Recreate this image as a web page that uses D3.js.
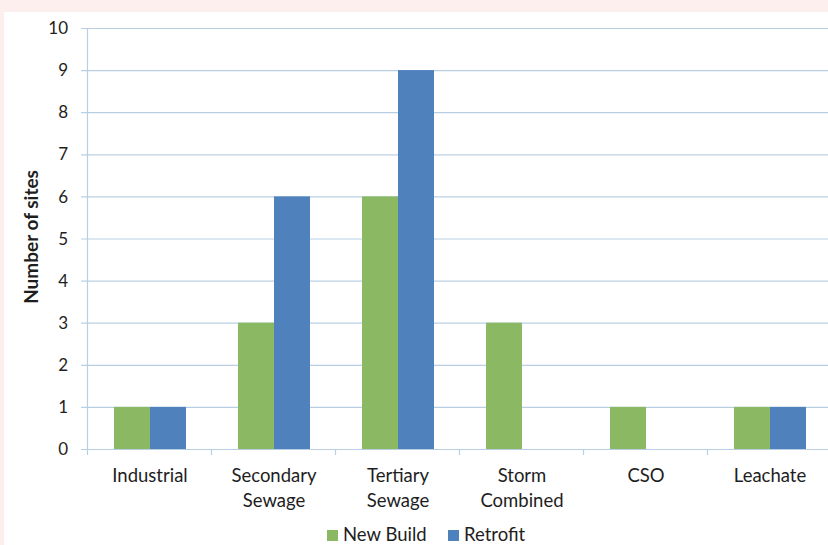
<!DOCTYPE html>
<html><head><meta charset="utf-8">
<script src="https://cdn.jsdelivr.net/npm/d3@7"></script>
<style>
html,body{margin:0;padding:0;background:#fcefee;}
svg{display:block;}
text{font-family:Lato,"Open Sans",sans-serif;fill:#1e1e1e;}
</style></head>
<body>
<svg id="chart" width="828" height="545"></svg>
<script>
const categories = [["Industrial"], ["Secondary", "Sewage"], ["Tertiary", "Sewage"], ["Storm", "Combined"], ["CSO"], ["Leachate"]];
const seriesNames = ["New Build", "Retrofit"];
const newBuild = [1, 3, 6, 3, 1, 1];
const retrofit = [1, 6, 9, 0, 0, 1];
const yTicks = [0, 1, 2, 3, 4, 5, 6, 7, 8, 9, 10];
const colors = ["#8bb863", "#4f81bd"];

const svg = d3.select("#chart");
svg.append("rect").attr("x", 4).attr("y", 12).attr("width", 824).attr("height", 533).attr("fill", "#ffffff");

const plotL = 88, plotR = 832, plotT = 28, plotB = 449;
const x = d3.scaleBand().domain(d3.range(categories.length)).range([plotL, plotR]);
const y = d3.scaleLinear().domain([0, 10]).range([plotB, plotT]);
const barW = 36;

// horizontal gridlines
svg.append("g").selectAll("line").data(yTicks).join("line")
  .attr("x1", plotL - 7).attr("x2", 828)
  .attr("y1", d => y(d) + 0.5).attr("y2", d => y(d) + 0.5)
  .attr("stroke", "#b8cfe3").attr("stroke-width", 1.2);

// y tick labels
svg.append("g").selectAll("text").data(yTicks).join("text")
  .attr("x", plotL - 20).attr("y", d => y(d)).attr("dy", "0.36em")
  .attr("text-anchor", "end").attr("font-size", 17).text(d => d);

// bars
const series = [newBuild, retrofit];
series.forEach((vals, s) => {
  svg.append("g").selectAll("rect").data(vals).join("rect")
    .attr("x", (d, i) => x(i) + x.bandwidth() / 2 - barW + s * barW)
    .attr("y", d => y(d))
    .attr("width", barW)
    .attr("height", d => y(0) - y(d))
    .attr("fill", colors[s]);
});

// axis lines
svg.append("line").attr("x1", plotL - 0.5).attr("x2", plotL - 0.5).attr("y1", plotT).attr("y2", plotB + 6)
  .attr("stroke", "#b8cfe3").attr("stroke-width", 1.2);
svg.append("g").selectAll("line").data(d3.range(1, categories.length)).join("line")
  .attr("x1", d => x(d) - 0.5).attr("x2", d => x(d) - 0.5)
  .attr("y1", plotB).attr("y2", plotB + 6)
  .attr("stroke", "#b8cfe3").attr("stroke-width", 1.2);

// category labels
const xl = svg.append("g").selectAll("text").data(categories).join("text")
  .attr("x", (d, i) => x(i) + x.bandwidth() / 2)
  .attr("y", 482).attr("text-anchor", "middle").attr("font-size", 18.5);
xl.selectAll("tspan").data(d => d).join("tspan")
  .attr("x", function () { return this.parentNode.getAttribute("x"); })
  .attr("dy", (d, i) => i === 0 ? 0 : 25).text(d => d);

// y axis title
svg.append("text").attr("transform", "translate(38,237) rotate(-90)")
  .attr("text-anchor", "middle").attr("font-size", 19).attr("font-weight", "bold")
  .text("Number of sites");

// legend
const legendX = [327, 448];
seriesNames.forEach((n, s) => {
  svg.append("rect").attr("x", legendX[s]).attr("y", 530).attr("width", 11).attr("height", 11).attr("fill", colors[s]);
  svg.append("text").attr("x", legendX[s] + 16).attr("y", 541).attr("font-size", 18.5).text(n);
});
</script>
</body></html>
